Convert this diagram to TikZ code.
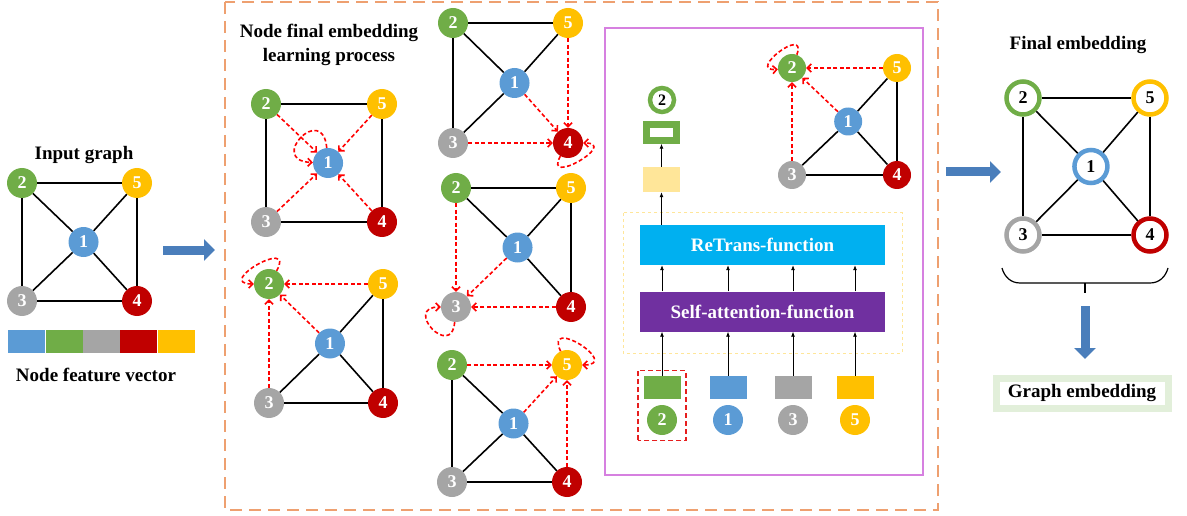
\documentclass[tikz,border=0pt]{standalone}
\usepackage{fontspec}
\setmainfont{Liberation Serif}
\usetikzlibrary{arrows.meta,fit}

\definecolor{cblue}{RGB}{91,155,213}
\definecolor{cgreen}{RGB}{112,173,71}
\definecolor{cgray}{RGB}{165,165,165}
\definecolor{cred}{RGB}{192,0,0}
\definecolor{cyellow}{RGB}{255,192,0}
\definecolor{arrowblue}{RGB}{74,126,187}
\definecolor{boxorange}{RGB}{238,160,112}
\definecolor{boxpink}{RGB}{214,128,224}
\definecolor{paleyellow}{RGB}{255,230,153}
\definecolor{retrans}{RGB}{0,176,240}
\definecolor{selfatt}{RGB}{112,48,160}
\definecolor{palegreen}{RGB}{226,239,218}
\definecolor{pickred}{RGB}{230,30,30}

\tikzset{
  dot/.style={circle, fill=#1, inner sep=0pt, minimum size=30pt, text=white,
    font=\bfseries\fontsize{18}{18}\selectfont},
  sdot/.style={dot=#1, minimum size=28pt},
  ring/.style={circle, fill=white, draw=#1, line width=4.5pt, inner sep=0pt,
    minimum size=33pt, font=\bfseries\fontsize{18}{18}\selectfont},
  edge/.style={line width=1.6pt},
  attn/.style={draw=red, line width=1.6pt, dash pattern=on 4pt off 2.5pt,
    -{Straight Barb[length=4pt,width=8pt]}},
  bigarrow/.style={draw=arrowblue, line width=9pt, -{Triangle[length=11pt,width=21pt]}},
  title/.style={font=\bfseries\fontsize{19}{24}\selectfont, align=center},
  func/.style={minimum width=245pt, minimum height=40pt, inner sep=0pt, text=white,
    font=\bfseries\fontsize{19}{19}\selectfont},
  feat/.style={fill=#1, minimum width=37pt, minimum height=23pt, inner sep=0pt},
  up/.style={-{Latex[length=5pt,width=4pt]}, line width=0.8pt}
}

% five nodes of a graph: [style]{prefix}{x of 2}{y of 2}{width}{height}
\newcommand{\gnodes}[6][dot]{%
  \node[#1=cgreen] (#2-2) at (#3,#4) {2};
  \node[#1=cyellow] (#2-5) at ({#3+#5},#4) {5};
  \node[#1=cblue] (#2-1) at ({#3+0.535*#5},{#4+0.5*#6}) {1};
  \node[#1=cgray] (#2-3) at (#3,{#4+#6}) {3};
  \node[#1=cred] (#2-4) at ({#3+#5},{#4+#6}) {4};
}
% dashed self attention loop: {node}{out angle}{in angle}{reach}
\newcommand{\selfloop}[4]{%
  \draw[attn] (#1.#2) .. controls +(#2:#4) and +(#3:#4) .. (#1.#3);
}

\begin{document}
\begin{tikzpicture}[x=1pt,y=-1pt]
  \useasboundingbox (0,0) rectangle (1187,516);

  % input graph
  \node[title] (intitle) at (84,155) {Input graph};
  \gnodes{in}{22}{183}{115}{118}
  \draw[edge] (in-2) -- (in-5) -- (in-4) -- (in-3) -- (in-2);
  \draw[edge] (in-2) -- (in-1) -- (in-4);
  \draw[edge] (in-5) -- (in-1) -- (in-3);
  \foreach \c [count=\i] in {cblue,cgreen,cgray,cred,cyellow}
    \node[feat=\c] (vec\i) at ({8+37.4*(\i-0.5)},341.5) {};
  \node[title] (vectitle) at (96,375) {Node feature vector};

  \coordinate (a1s) at (163,250);
  \coordinate (a1e) at (215,250);
  \draw[bigarrow] (a1s) -- (a1e);

  % learning process
  \draw[boxorange, line width=2pt, dash pattern=on 12pt off 7pt] (225,2) rectangle (938,510);
  \node[title] (proctitle) at (329,45) {Node final embedding\\learning process};

  \gnodes{ga}{266}{104}{116}{118}
  \draw[edge] (ga-2) -- (ga-5) -- (ga-4) -- (ga-3) -- (ga-2);
  \foreach \v in {2,3,4,5}
    \draw[attn] (ga-\v) -- (ga-1);
  \selfloop{ga-1}{95}{178}{46pt}

  \gnodes{gb}{269}{284}{114}{119}
  \draw[edge] (gb-5) -- (gb-4) -- (gb-3) -- (gb-1) -- (gb-5);
  \draw[edge] (gb-1) -- (gb-4);
  \foreach \v in {5,1,3}
    \draw[attn] (gb-\v) -- (gb-2);
  \selfloop{gb-2}{60}{180}{40pt}

  \gnodes{gc}{453}{23}{115}{120}
  \draw[edge] (gc-3) -- (gc-2) -- (gc-5) -- (gc-1) -- (gc-3);
  \draw[edge] (gc-2) -- (gc-1);
  \foreach \v in {5,1,3}
    \draw[attn] (gc-\v) -- (gc-4);
  \selfloop{gc-4}{-120}{0}{36pt}

  \gnodes{gd}{456}{188}{115}{119}
  \draw[edge] (gd-1) -- (gd-2) -- (gd-5) -- (gd-4) -- (gd-1);
  \draw[edge] (gd-5) -- (gd-1);
  \foreach \v in {2,1,4}
    \draw[attn] (gd-\v) -- (gd-3);
  \selfloop{gd-3}{-95}{180}{38pt}

  \gnodes{ge}{452}{365}{115}{117}
  \draw[edge] (ge-1) -- (ge-2) -- (ge-3) -- (ge-4) -- (ge-1);
  \draw[edge] (ge-1) -- (ge-3);
  \foreach \v in {2,1,4}
    \draw[attn] (ge-\v) -- (ge-5);
  \selfloop{ge-5}{115}{0}{40pt}

  % attention block
  \draw[boxpink, line width=1.2pt] (605,28) rectangle (923,475);

  \gnodes[sdot]{gf}{792}{68}{105}{107}
  \draw[edge] (gf-5) -- (gf-4) -- (gf-3) -- (gf-1) -- (gf-5);
  \draw[edge] (gf-1) -- (gf-4);
  \foreach \v in {5,1,3}
    \draw[attn] (gf-\v) -- (gf-2);
  \selfloop{gf-2}{70}{185}{32pt}

  \draw[paleyellow, line width=1pt, dashed] (623,213) rectangle (902,353);
  \node[func, fill=retrans] (retr) at (762.5,245) {ReTrans-function};
  \node[func, fill=selfatt] (satt) at (762.5,311.5) {Self-attention-function};

  \foreach \c/\n/\x in {cgreen/2/662, cblue/1/728, cgray/3/793, cyellow/5/855} {
    \node[feat=\c] (f\n) at (\x,387.5) {};
    \node[dot=\c] (c\n) at (\x,420) {\n};
    \draw[up] (f\n.north) -- (f\n.north |- satt.south);
    \draw[up] (satt.north -| f\n) -- (retr.south -| f\n);
  }
  \node[inner sep=5pt, fit=(f2)(c2)] (pick) {};
  \draw[pickred, line width=1.3pt, dash pattern=on 5pt off 3pt]
    (pick.south west) rectangle (pick.north east);

  \node[fill=paleyellow, minimum width=37pt, minimum height=25pt, inner sep=0pt] (hid) at (661.5,179.5) {};
  \node[draw=cgreen, line width=6.5pt, minimum width=30pt, minimum height=16pt, inner sep=0pt] (emb) at (661.5,132.5) {};
  \node[ring=cgreen, minimum size=24pt, line width=4.5pt, font=\bfseries\fontsize{16}{16}\selectfont] (top2) at (662,100) {2};
  \draw[up] (retr.north -| hid) -- (hid.south);
  \draw[up] (hid.north) -- (emb.south);

  % final embedding
  \coordinate (a2s) at (946,172);
  \coordinate (a2e) at (1001,172);
  \draw[bigarrow] (a2s) -- (a2e);

  \node[title] (outtitle) at (1078,45) {Final embedding};
  \gnodes[ring]{out}{1023}{98}{127}{137}
  \draw[edge] (out-2) -- (out-5) -- (out-4) -- (out-3) -- (out-2);
  \draw[edge] (out-2) -- (out-1) -- (out-4);
  \draw[edge] (out-5) -- (out-1) -- (out-3);

  \draw[line width=1.2pt] (1002,268) to[out=-75,in=180] (1020,283) -- (1150,283)
    to[out=0,in=-105] (1168,268);
  \draw[line width=1.2pt] (1085,283) -- (1085,293);

  \coordinate (a3s) at (1085,306);
  \coordinate (a3e) at (1085,359);
  \draw[bigarrow] (a3s) -- (a3e);

  \node[title, draw=palegreen, line width=7pt, fill=white, minimum width=172pt,
    minimum height=30pt] (gemb) at (1082,393) {Graph embedding};
\end{tikzpicture}
\end{document}
